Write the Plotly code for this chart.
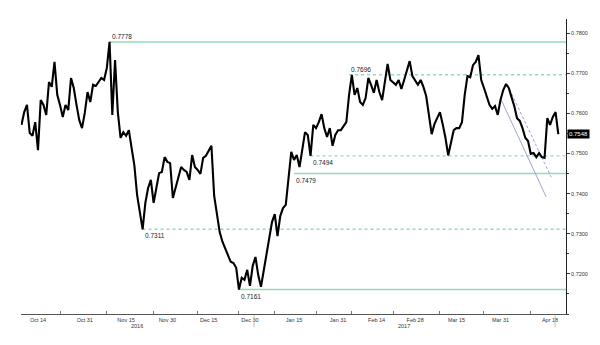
import plotly.graph_objects as go
import pandas as pd

# AUD/USD daily readings, 2016-10-08 .. 2017-04-21
audusd = [
    0.7571, 0.7603, 0.7621, 0.7551, 0.7544, 0.7578,
    0.7508, 0.7633, 0.7621, 0.7596, 0.7678, 0.7666, 0.7728, 0.7646, 0.7621, 0.7591,
    0.7621, 0.7608, 0.7688, 0.7663, 0.7621, 0.7583, 0.7563, 0.7601, 0.7653, 0.7628,
    0.7671, 0.7668, 0.7678, 0.7688, 0.7683, 0.7713, 0.7778, 0.7596, 0.7733, 0.7603,
    0.7539, 0.7553, 0.7544, 0.7558, 0.7514, 0.7471, 0.7397, 0.7359, 0.7311, 0.7377,
    0.7414, 0.7434, 0.7377, 0.7414, 0.7451, 0.7454, 0.7491, 0.7479, 0.7476, 0.7389,
    0.7414, 0.7434, 0.7466, 0.7459, 0.7454, 0.7434, 0.7496, 0.7466, 0.7459, 0.7449,
    0.7489, 0.7494, 0.7508, 0.7519, 0.7394, 0.7349, 0.7304, 0.7280, 0.7262, 0.7245,
    0.7230, 0.7227, 0.7215, 0.7161, 0.7190, 0.7185, 0.7210, 0.7170, 0.7220, 0.7242,
    0.7197, 0.7168, 0.7207, 0.7252, 0.7292, 0.7329, 0.7349, 0.7294, 0.7344, 0.7364,
    0.7372, 0.7434, 0.7504, 0.7484, 0.7496, 0.7466, 0.7508, 0.7553, 0.7546, 0.7494,
    0.7571, 0.7563, 0.7578, 0.7598, 0.7563, 0.7541, 0.7563, 0.7519, 0.7546, 0.7558,
    0.7558, 0.7568, 0.7578, 0.7646, 0.7696, 0.7646, 0.7663, 0.7628, 0.7621, 0.7638,
    0.7688, 0.7671, 0.7651, 0.7683, 0.7653, 0.7633, 0.7673, 0.7723, 0.7683, 0.7678,
    0.7671, 0.7683, 0.7661, 0.7683, 0.7708, 0.7730, 0.7693, 0.7683, 0.7671, 0.7683,
    0.7666, 0.7643, 0.7591, 0.7548, 0.7573, 0.7588, 0.7603, 0.7573, 0.7539, 0.7495,
    0.7526, 0.7558, 0.7563, 0.7563, 0.7578, 0.7646, 0.7693, 0.7690, 0.7720, 0.7728,
    0.7745, 0.7683, 0.7663, 0.7641, 0.7621, 0.7611, 0.7618, 0.7596, 0.7633, 0.7658,
    0.7673, 0.7663, 0.7641, 0.7618, 0.7588, 0.7581, 0.7563, 0.7539, 0.7531, 0.7499,
    0.7501, 0.7491, 0.7501, 0.7491, 0.7489, 0.7588, 0.7571, 0.7591, 0.7603, 0.7548,
]
dates = pd.date_range("2016-10-08", periods=len(audusd), freq="D")

# support / resistance levels
level_values = [0.7778, 0.7696, 0.7494, 0.7450, 0.7311, 0.7161]
level_labels = ["0.7778", "0.7696", "0.7494", "0.7479", "0.7311", "0.7161"]
level_start = ["2016-11-09", "2017-02-04", "2017-01-21", "2017-01-15", "2016-11-21", "2016-12-26"]
level_dash = ["solid", "dash", "dash", "solid", "dash", "solid"]
level_label_above = [True, True, False, False, False, False]

# trend channel
trend_solid_x = ["2017-03-31 07:00", "2017-04-16 14:00"]
trend_solid_y = [0.7633, 0.7392]
trend_dash_x = ["2017-04-02 12:00", "2017-04-18 10:00"]
trend_dash_y = [0.7671, 0.7441]

# axis labels
x_label_dates = ["2016-10-14", "2016-10-31", "2016-11-15", "2016-11-30", "2016-12-15",
                 "2016-12-30", "2017-01-15", "2017-01-31", "2017-02-14", "2017-02-28",
                 "2017-03-15", "2017-03-31", "2017-04-18"]
x_label_text = ["Oct 14", "Oct 31", "Nov 15", "Nov 30", "Dec 15", "Dec 30", "Jan 15",
                "Jan 31", "Feb 14", "Feb 28", "Mar 15", "Mar 31", "Apr 18"]
x_tick_dates = ["2016-10-22", "2016-11-08", "2016-11-25", "2016-12-11", "2016-12-26",
                "2017-01-08", "2017-01-23", "2017-02-05", "2017-02-20", "2017-03-09",
                "2017-03-25", "2017-04-11"]
year_dates = ["2016-11-19", "2017-02-24"]
year_text = ["2016", "2017"]
sep_dates = ["2016-12-31 12:00", "2017-04-19 20:00"]
y_ticks = [0.72, 0.73, 0.74, 0.75, 0.76, 0.77, 0.78]

x_range = ["2016-10-07 20:00", "2017-04-23 19:00"]
y_range = [0.7100, 0.7835]

GREEN = "#93d9bd"
FONT = "Liberation Sans, Arial, sans-serif"

fig = go.Figure()

for v, s, d in zip(level_values, level_start, level_dash):
    fig.add_trace(go.Scatter(
        x=[s, x_range[1]], y=[v, v], mode="lines",
        line=dict(color=GREEN, width=1.5 if d == "solid" else 1.4,
                  dash="solid" if d == "solid" else "3px,3px"),
        hoverinfo="skip", showlegend=False))

fig.add_trace(go.Scatter(x=trend_solid_x, y=trend_solid_y, mode="lines",
                         line=dict(color="#8e9bcc", width=0.9),
                         hoverinfo="skip", showlegend=False))
fig.add_trace(go.Scatter(x=trend_dash_x, y=trend_dash_y, mode="lines",
                         line=dict(color="#8e9bcc", width=0.9, dash="3px,2px"),
                         hoverinfo="skip", showlegend=False))

fig.add_trace(go.Scatter(x=dates, y=audusd, mode="lines",
                         line=dict(color="black", width=2.1),
                         showlegend=False))

# helper trace for the small boundary ticks
fig.add_trace(go.Scatter(x=[dates[0]], y=[None], xaxis="x2", mode="lines",
                         showlegend=False, hoverinfo="skip"))

annotations = []
for v, t, s, above in zip(level_values, level_labels, level_start, level_label_above):
    annotations.append(dict(
        x=s, y=v, xref="x", yref="y", text=t, showarrow=False,
        xanchor="left", yanchor="bottom" if above else "top",
        yshift=0 if above else -1,
        font=dict(family=FONT, size=6.5, color="#222")))

for d, t in zip(year_dates, year_text):
    annotations.append(dict(x=d, y=0, xref="x", yref="paper", text=t, showarrow=False,
                            xanchor="center", yanchor="top", yshift=-7,
                            font=dict(family=FONT, size=5.5, color="#333")))

annotations.append(dict(
    x=1, y=audusd[-1], xref="paper", yref="y", text=f"{audusd[-1]:.4f}",
    showarrow=False, xanchor="left", yanchor="middle", xshift=1,
    bgcolor="black", borderpad=1,
    font=dict(family=FONT, size=6, color="white")))

shapes = [dict(type="line", xref="x", yref="paper", x0=d, x1=d, y0=-0.004, y1=-0.045,
               line=dict(color="#bbbbbb", width=1)) for d in sep_dates]

fig.update_layout(
    width=600, height=345,
    margin=dict(l=21, r=32, t=19, b=31),
    paper_bgcolor="white", plot_bgcolor="white",
    font=dict(family=FONT, size=6, color="#333"),
    xaxis=dict(type="date", range=x_range, tickvals=x_label_dates, ticktext=x_label_text,
               ticks="", showgrid=False, zeroline=False, showline=True,
               linecolor="#555", linewidth=1, tickfont=dict(size=5.5, color="#333"),
               fixedrange=True),
    xaxis2=dict(type="date", range=x_range, overlaying="x", anchor="y", side="bottom",
                tickvals=x_tick_dates, ticks="inside", ticklen=3, tickcolor="#777",
                showticklabels=False, showgrid=False, zeroline=False, showline=False),
    yaxis=dict(side="right", range=y_range, tickvals=y_ticks, tickformat=".4f",
               ticks="outside", ticklen=3, tickcolor="#333", showgrid=False,
               zeroline=False, showline=True, linecolor="#222", linewidth=1,
               tickfont=dict(size=5.5, color="#333"),
               minor=dict(dtick=0.005, ticks="outside", ticklen=2, tickcolor="#333")),
    annotations=annotations,
    shapes=shapes,
)

fig.write_html("out.html")
